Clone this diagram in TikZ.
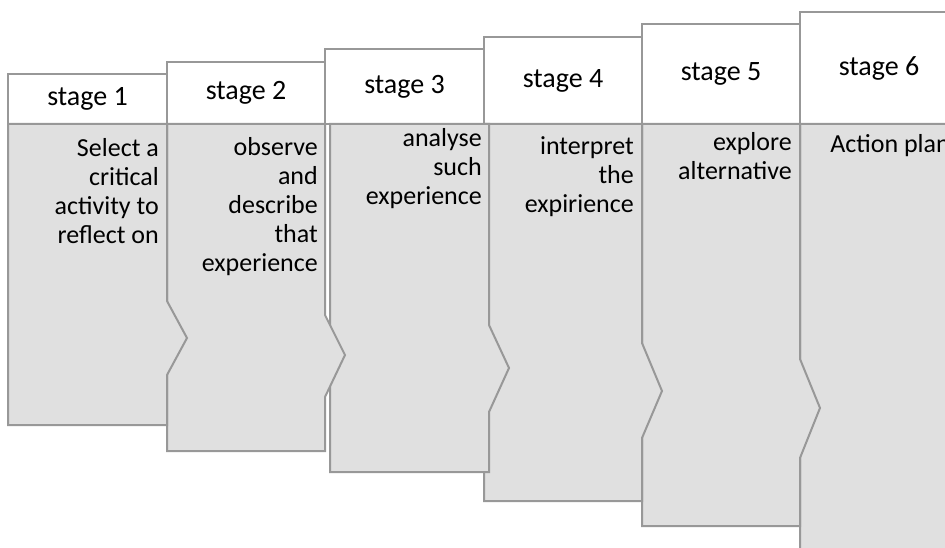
\documentclass[tikz,border=0pt]{standalone}
\usepackage{fontspec}
\setmainfont{Carlito}
\definecolor{edgegray}{RGB}{152,152,152}
\definecolor{bodygray}{RGB}{224,224,224}
\tikzset{
  stageedge/.style={draw=edgegray, line width=2pt, line join=miter},
  headbox/.style={stageedge, fill=white},
  bodybox/.style={stageedge, fill=bodygray},
  headlabel/.style={font=\fontsize{28}{32}\selectfont, inner sep=0pt, text=black},
  bodylabel/.style={font=\fontsize{26}{29}\selectfont, align=right, inner sep=0pt,
                    anchor=north east, text=black},
}
% body of a stage: left, right, bottom, notch start, notch tip, notch end
\newcommand\stagebody[6]{%
  \path[bodybox] (#1,124) -- (#2,124) -- (#2,#4) -- ({#2+20},#5) -- (#2,#6)
    -- (#2,#3) -- (#1,#3) -- cycle;}
\begin{document}
\begin{tikzpicture}[x=1pt, y=-1pt]
  \useasboundingbox (0,0) rectangle (945,548);
  \clip (0,0) rectangle (945,548);

  % header boxes
  \path[headbox] (8,74)    rectangle (167,124);
  \path[headbox] (167,62)  rectangle (325,124);
  \path[headbox] (325,49)  rectangle (484,124);
  \path[headbox] (484,37)  rectangle (642,124);
  \path[headbox] (642,24)  rectangle (800,124);
  \path[headbox] (800,12)  rectangle (958,124);

  % bodies, last stage first so each notch lies over the next body
  \stagebody{800}{958}{570}{380}{430}{480}
  \stagebody{642}{800}{526}{359}{408}{458}
  \stagebody{484}{642}{501}{343}{391}{438}
  \stagebody{330}{489}{472}{325}{368}{412}
  \stagebody{167}{325}{451}{315}{355}{397}
  \stagebody{8}{167}{425}{301}{338}{375}

  % header labels
  \node[headlabel] (h1) at (87.5,99)  {stage 1};
  \node[headlabel] (h2) at (246,93)   {stage 2};
  \node[headlabel] (h3) at (404.5,86.5) {stage 3};
  \node[headlabel] (h4) at (563,80.5) {stage 4};
  \node[headlabel] (h5) at (721,74)   {stage 5};
  \node[headlabel] (h6) at (879,68)   {stage 6};

  % body texts
  \node[bodylabel] (b1) at (159,135.7) {\strut Select a\\critical\\activity to\\reflect on};
  \node[bodylabel] (b2) at (318,134.7) {\strut observe\\and\\describe\\that\\experience};
  \node[bodylabel] (b3) at (482,125.7) {\strut analyse\\such\\experience};
  \node[bodylabel] (b4) at (634,133.7) {\strut interpret\\the\\expirience};
  \node[bodylabel] (b5) at (792,129.7) {\strut explore\\alternative};
  \node[bodylabel] (b6) at (950,131.7) {\strut Action plan};
\end{tikzpicture}
\end{document}
